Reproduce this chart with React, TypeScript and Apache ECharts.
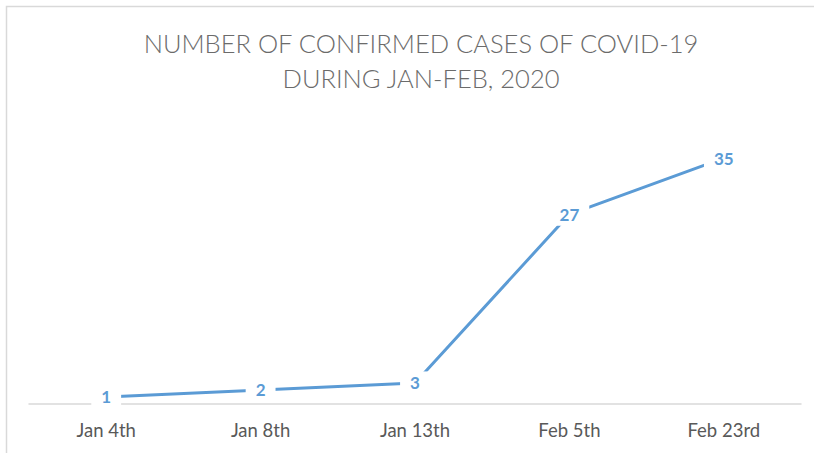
import React, { useEffect, useRef } from "react";
import * as echarts from "echarts";

const categories = ["Jan 4th", "Jan 8th", "Jan 13th", "Feb 5th", "Feb 23rd"];
const confirmedCases = [1, 2, 3, 27, 35];
const titleText = "NUMBER OF CONFIRMED CASES OF COVID-19\nDURING JAN-FEB, 2020";

export default function App() {
  const ref = useRef<HTMLDivElement>(null);
  useEffect(() => {
    document.body.style.margin = "0";
    const chart = echarts.init(ref.current!, null, { renderer: "svg" });
    chart.setOption({
      animation: false,
      backgroundColor: "#ffffff",
      title: {
        text: titleText,
        left: 416,
        textAlign: "center",
        top: 20,
        textStyle: {
          fontFamily: "Lato",
          fontWeight: 300,
          fontSize: 25.5,
          lineHeight: 35,
          color: "#6b6b6b",
        },
      },
      graphic: [
        {
          type: "rect",
          shape: { x: 6.5, y: 6.5, width: 820, height: 460 },
          style: { fill: "none", stroke: "#d9d9d9", lineWidth: 1.5 },
          silent: true,
        },
      ],
      grid: { left: 29, right: 13, top: 123, bottom: 49 },
      xAxis: {
        type: "category",
        data: categories,
        boundaryGap: true,
        axisLine: { lineStyle: { color: "#d9d9d9", width: 1.5 } },
        axisTick: { show: false },
        axisLabel: {
          color: "#595959",
          fontFamily: "Lato",
          fontSize: 18.5,
          margin: 16,
        },
      },
      yAxis: {
        type: "value",
        min: 0,
        max: 40,
        show: false,
        splitLine: { show: false },
      },
      series: [
        {
          type: "line",
          data: confirmedCases,
          symbol: "circle",
          symbolSize: 2,
          showSymbol: true,
          itemStyle: { color: "#5B9BD5" },
          lineStyle: { color: "#5B9BD5", width: 3 },
          label: {
            show: true,
            position: "inside",
            color: "#5B9BD5",
            fontFamily: "Lato",
            fontWeight: "bold",
            fontSize: 17,
            backgroundColor: "#ffffff",
            padding: [3, 10],
          },
        },
      ],
    });
    return () => chart.dispose();
  }, []);
  return <div ref={ref} style={{ width: 814, height: 453 }} />;
}
